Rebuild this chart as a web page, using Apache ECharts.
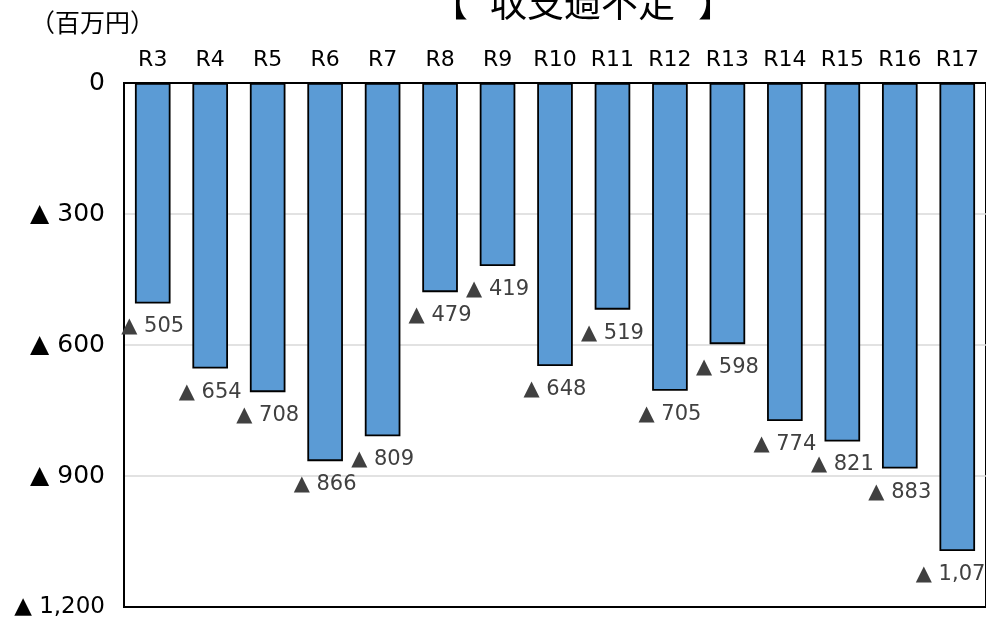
<!DOCTYPE html>
<html><head><meta charset="utf-8">
<script src="https://cdn.jsdelivr.net/npm/echarts@6/dist/echarts.min.js"></script>
<style>html,body{margin:0;padding:0;background:#fff}#c{width:986px;height:623px}</style>
</head><body><div id="c"></div>
<script>
const categories = ['R3','R4','R5','R6','R7','R8','R9','R10','R11','R12','R13','R14','R15','R16','R17'];
const deficit = [505,654,708,866,809,479,419,648,519,705,598,774,821,883,1072];
const yTicks = [0,300,600,900,1200];

const fmt = v => v === 0 ? '0' : '▲ ' + v.toLocaleString('en-US');
const font = '"DejaVu Sans", "Noto Sans CJK JP", sans-serif';
const cjk = '"Noto Sans CJK JP", sans-serif';
const chart = echarts.init(document.getElementById('c'));
chart.setOption({
  animation: false,
  textStyle: {fontFamily: font},
  graphic: [
    {type: 'text', x: 30, y: 22, style: {text: '（百万円）', fontSize: 25, fill: '#000', fontFamily: cjk, textVerticalAlign: 'middle'}},
    {type: 'text', x: 432, y: 3, style: {text: '【', fontSize: 36, fill: '#000', fontFamily: cjk, textVerticalAlign: 'middle'}},
    {type: 'text', x: 490, y: 3, style: {text: '収支過不足', fontSize: 37, fill: '#000', fontFamily: cjk, textVerticalAlign: 'middle'}},
    {type: 'text', x: 698, y: 3, style: {text: '】', fontSize: 36, fill: '#000', fontFamily: cjk, textVerticalAlign: 'middle'}}
  ],
  grid: {left: 124, right: -6, top: 83, bottom: 16, show: true, borderColor: '#000', borderWidth: 2, containLabel: false},
  xAxis: {type: 'category', data: categories, position: 'top',
    axisLine: {show: true, lineStyle: {color: '#000', width: 2}},
    axisTick: {show: false},
    axisLabel: {color: '#000', fontSize: 22, margin: 12, fontFamily: font}},
  yAxis: {type: 'value', inverse: true, min: 0, max: 1200, interval: 300,
    axisLine: {show: true, lineStyle: {color: '#000', width: 2}},
    axisTick: {show: false},
    splitLine: {showMinLine: false, showMaxLine: false, lineStyle: {color: '#d9d9d9', width: 1.5}},
    axisLabel: {color: '#000', fontSize: 25, margin: 19, fontFamily: font,
      formatter: v => v === 1200 ? '{s|' + fmt(v) + '}' : fmt(v),
      rich: {s: {fontSize: 23, color: '#000', fontFamily: font}}}},
  series: [{type: 'bar', data: deficit, barWidth: '62%',
    itemStyle: {color: '#5B9BD5', borderColor: '#000', borderWidth: 1.8},
    label: {show: true, position: 'bottom', distance: 13, color: '#404040', fontSize: 21, fontFamily: font,
      formatter: p => fmt(p.value)}}]
});
</script></body></html>
